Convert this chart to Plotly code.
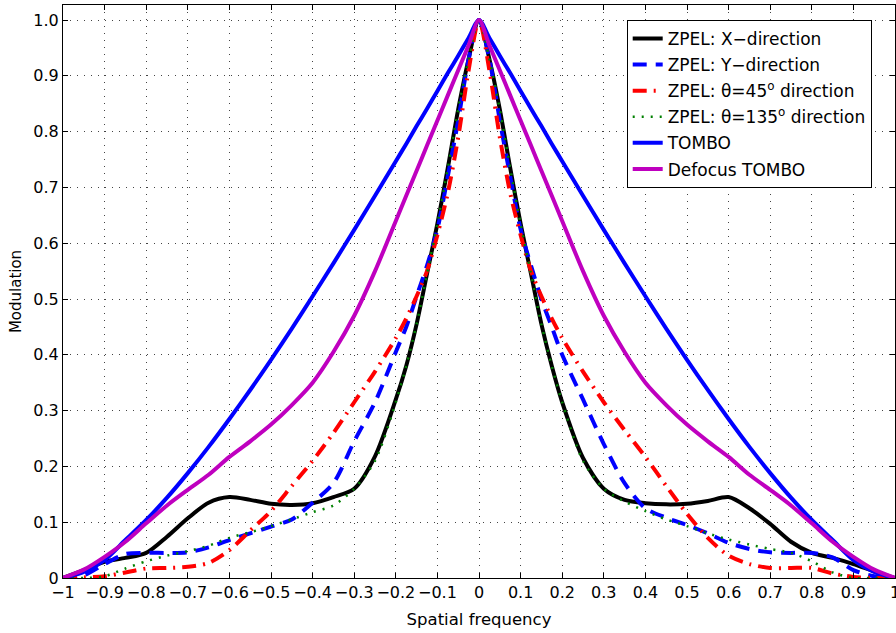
import plotly.graph_objects as go

# spatial frequency samples (denser near the peak)
freq = [-1.0, -0.95, -0.9, -0.85, -0.8, -0.75, -0.7, -0.65, -0.6, -0.55, -0.5, -0.45, -0.4,
        -0.35, -0.3, -0.25, -0.2, -0.175, -0.15, -0.125, -0.1, -0.075, -0.05, -0.025,
        0.0,
        0.025, 0.05, 0.075, 0.1, 0.125, 0.15, 0.175, 0.2, 0.25, 0.3, 0.35, 0.4, 0.45,
        0.5, 0.55, 0.6, 0.65, 0.7, 0.75, 0.8, 0.85, 0.9, 0.95, 1.0]

zpel_x = [0.0, 0.014, 0.029, 0.036, 0.045, 0.074, 0.107, 0.135, 0.145, 0.14, 0.133, 0.131,
          0.134, 0.145, 0.16, 0.218, 0.32, 0.38, 0.455, 0.545, 0.635, 0.735, 0.84, 0.93,
          1.0,
          0.93, 0.84, 0.735, 0.635, 0.545, 0.455, 0.38, 0.315, 0.215, 0.16, 0.14, 0.134,
          0.132, 0.133, 0.138, 0.145, 0.125, 0.097, 0.065, 0.045, 0.036, 0.025, 0.012, 0.0]

zpel_y = [0.0, 0.005, 0.025, 0.043, 0.045, 0.045, 0.046, 0.055, 0.068, 0.08, 0.092, 0.105,
          0.135, 0.17, 0.245, 0.315, 0.405, 0.45, 0.505, 0.56, 0.625, 0.72, 0.82, 0.93,
          1.0,
          0.93, 0.82, 0.72, 0.625, 0.56, 0.5, 0.45, 0.4, 0.32, 0.24, 0.17, 0.125, 0.108,
          0.095, 0.08, 0.063, 0.052, 0.046, 0.045, 0.045, 0.037, 0.014, 0.003, 0.0]

zpel_45 = [0.0, 0.001, 0.003, 0.01, 0.017, 0.018, 0.02, 0.027, 0.05, 0.085, 0.12, 0.165,
           0.21, 0.26, 0.315, 0.37, 0.43, 0.465, 0.505, 0.55, 0.615, 0.69, 0.79, 0.91,
           1.0,
           0.91, 0.79, 0.69, 0.615, 0.55, 0.505, 0.465, 0.43, 0.37, 0.315, 0.265, 0.217,
           0.165, 0.115, 0.072, 0.04, 0.025, 0.018, 0.018, 0.018, 0.008, 0.002, 0.0, 0.0]

zpel_135 = [0.0, 0.0, 0.003, 0.017, 0.03, 0.04, 0.048, 0.058, 0.072, 0.082, 0.093, 0.105,
            0.118, 0.13, 0.16, 0.21, 0.315, 0.38, 0.455, 0.545, 0.635, 0.735, 0.84, 0.93,
            1.0,
            0.93, 0.84, 0.735, 0.635, 0.545, 0.455, 0.38, 0.315, 0.21, 0.16, 0.137, 0.12,
            0.105, 0.093, 0.08, 0.069, 0.06, 0.052, 0.045, 0.03, 0.01, 0.0, 0.0, 0.0]

tombo = [0.0, 0.011, 0.032, 0.068, 0.104, 0.144, 0.188, 0.235, 0.285, 0.337, 0.391, 0.447,
         0.505, 0.564, 0.624, 0.685, 0.747, 0.778, 0.81, 0.841, 0.873, 0.905, 0.936, 0.968,
         1.0,
         0.968, 0.936, 0.905, 0.873, 0.841, 0.81, 0.778, 0.747, 0.685, 0.624, 0.564, 0.505,
         0.447, 0.391, 0.337, 0.285, 0.235, 0.188, 0.144, 0.104, 0.068, 0.032, 0.011, 0.0]

defocus = [0.0, 0.015, 0.038, 0.065, 0.098, 0.13, 0.158, 0.185, 0.217, 0.245, 0.275, 0.31,
           0.35, 0.405, 0.47, 0.55, 0.64, 0.685, 0.73, 0.775, 0.82, 0.865, 0.91, 0.955,
           1.0,
           0.955, 0.91, 0.865, 0.82, 0.775, 0.73, 0.685, 0.64, 0.55, 0.47, 0.405, 0.35,
           0.31, 0.275, 0.245, 0.217, 0.185, 0.158, 0.13, 0.098, 0.065, 0.038, 0.015, 0.0]

x_ticks = [round(-1 + 0.1 * i, 1) for i in range(21)]
x_ticktext = ["−1", "−0.9", "−0.8", "−0.7", "−0.6", "−0.5", "−0.4", "−0.3", "−0.2", "−0.1",
              "0", "0.1", "0.2", "0.3", "0.4", "0.5", "0.6", "0.7", "0.8", "0.9", "1"]
y_ticks = [round(0.1 * i, 1) for i in range(11)]
y_ticktext = ["0", "0.1", "0.2", "0.3", "0.4", "0.5", "0.6", "0.7", "0.8", "0.9", "1.0"]

series = [
    ("ZPEL: X−direction", zpel_x, "#000000", "solid", 4),
    ("ZPEL: Y−direction", zpel_y, "#0000ff", "14px,9px", 4),
    ("ZPEL: θ=45<sup>o</sup> direction", zpel_45, "#ff0000", "14px,7px,2px,7px", 4),
    ("ZPEL: θ=135<sup>o</sup> direction", zpel_135, "#008000", "2px,7px", 2.5),
    ("TOMBO", tombo, "#0000ff", "solid", 4),
    ("Defocus TOMBO", defocus, "#bf00bf", "solid", 4),
]

fig = go.Figure()
for i, (name, vals, color, dash, width) in enumerate(series):
    fig.add_trace(go.Scatter(x=freq, y=vals, mode="lines", name=name, legendgroup=f"g{i}",
                             line=dict(color=color, width=width, dash=dash,
                                       shape="spline", smoothing=0.8)))

axis_common = dict(showline=True, linecolor="black", linewidth=1, mirror="ticks",
                   ticks="inside", ticklen=5, tickcolor="black", automargin=False,
                   showgrid=True, gridcolor="#444444", gridwidth=1, griddash="1px,6px",
                   zeroline=False, ticklabeloverflow="allow",
                   tickfont=dict(size=16, color="black"))

fig.update_xaxes(range=[-1, 1], tickvals=x_ticks, ticktext=x_ticktext,
                 title=dict(text="Spatial frequency", font=dict(size=16.5, color="black"), standoff=12),
                 **axis_common)
fig.update_yaxes(range=[0, 1.027], tickvals=y_ticks, ticktext=y_ticktext,
                 title=dict(text="Modulation", font=dict(size=15, color="black"), standoff=8),
                 **axis_common)

fig.update_layout(
    width=896, height=633,
    margin=dict(l=63, r=1, t=5, b=55),
    paper_bgcolor="white", plot_bgcolor="white",
    font=dict(family="DejaVu Sans, Arial, sans-serif", size=16, color="black"),
    legend=dict(x=0.972, y=0.974, xanchor="right", yanchor="top",
                bgcolor="white", bordercolor="black", borderwidth=1,
                font=dict(size=17), itemwidth=30, tracegroupgap=1),
)

# drop the default page margin so the figure sits at the window's corner
fig.write_html("out.html", config={"displayModeBar": False},
               post_script="document.body.style.margin='0';")
